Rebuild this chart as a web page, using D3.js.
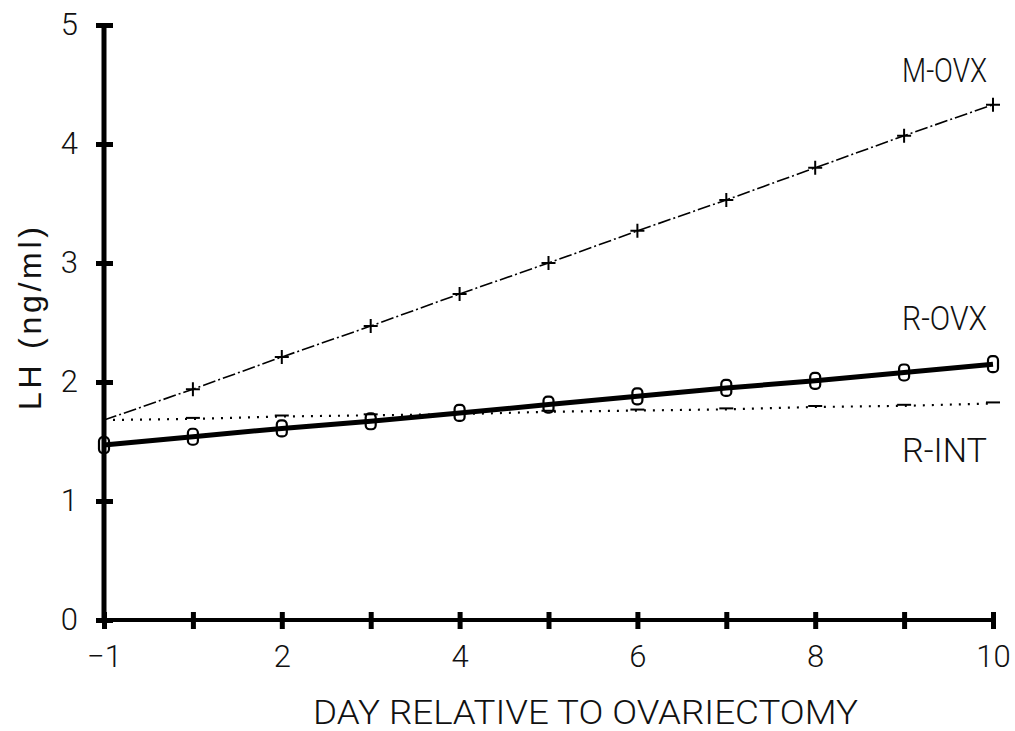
<!DOCTYPE html>
<html>
<head>
<meta charset="utf-8">
<script src="https://cdn.jsdelivr.net/npm/d3@7"></script>
<style>
  body { margin: 0; background: #fff; }
  svg text { font-family: Roboto, "DejaVu Sans", sans-serif; fill: #111; }
</style>
</head>
<body>
<div id="container"></div>
<script>
// days on the x axis (there is no day 0)
var days = [-1, 1, 2, 3, 4, 5, 6, 7, 8, 9, 10];
var xTickLabels = [-1, 2, 4, 6, 8, 10];
var yTicks = [0, 1, 2, 3, 4, 5];

// LH values (ng/ml)
var mOvx = [1.68, 1.94, 2.21, 2.47, 2.74, 3.00, 3.27, 3.53, 3.80, 4.07, 4.33];
var rOvx = [1.47, 1.54, 1.61, 1.67, 1.74, 1.81, 1.88, 1.95, 2.01, 2.08, 2.15];
var rInt = [1.68, 1.69, 1.71, 1.72, 1.73, 1.75, 1.76, 1.77, 1.79, 1.80, 1.82];

var seriesNames = ["M-OVX", "R-OVX", "R-INT"];

var width = 1015, height = 731;

var svg = d3.select("#container").append("svg")
    .attr("width", width)
    .attr("height", height);

// x is evenly spaced by position, not by day value
var x = d3.scalePoint()
    .domain(days)
    .range([104, 993]);

var y = d3.scaleLinear()
    .domain([0, 5])
    .range([620, 25]);

// y axis
var yAxis = svg.append("g")
    .attr("transform", "translate(104,0)")
    .call(d3.axisLeft(y).tickValues(yTicks).tickFormat(d3.format("d"))
        .tickSize(0).tickPadding(26));
yAxis.select(".domain").remove();
yAxis.selectAll(".tick text")
    .style("font-size", "31px")
    .style("font-weight", 300)
    .attr("fill", "#111");
yAxis.selectAll(".tick").append("line")
    .attr("x1", -8).attr("x2", 9)
    .attr("stroke", "#000").attr("stroke-width", 5);
yAxis.append("line")
    .attr("y1", y(5) - 2).attr("y2", y(0) + 2)
    .attr("stroke", "#000").attr("stroke-width", 5);

// x axis
var xAxis = svg.append("g")
    .attr("transform", "translate(0," + y(0) + ")")
    .call(d3.axisBottom(x).tickSize(0).tickPadding(25)
        .tickFormat(function(d) { return xTickLabels.indexOf(d) >= 0 ? (d < 0 ? "\u2212" + (-d) : d) : ""; }));
xAxis.select(".domain").remove();
xAxis.selectAll(".tick text")
    .style("font-size", "31px")
    .style("font-weight", 300)
    .attr("fill", "#111");
xAxis.selectAll(".tick").append("line")
    .attr("y1", -8).attr("y2", 9)
    .attr("stroke", "#000").attr("stroke-width", 5);
xAxis.append("line")
    .attr("x1", x(-1) - 2).attr("x2", x(10) + 2)
    .attr("stroke", "#000").attr("stroke-width", 4);

var line = d3.line()
    .x(function(d, i) { return x(days[i]); })
    .y(function(d) { return y(d); });

// R-INT: dotted with short dashes as markers
svg.append("path")
    .datum(rInt)
    .attr("d", line)
    .attr("fill", "none")
    .attr("stroke", "#000")
    .attr("stroke-width", 2.2)
    .attr("stroke-dasharray", "2,7");
svg.selectAll(".rint-mark")
    .data(rInt.slice(1))
    .enter().append("line")
    .attr("class", "rint-mark")
    .attr("x1", function(d, i) { return x(days[i + 1]) - 7; })
    .attr("x2", function(d, i) { return x(days[i + 1]) + 7; })
    .attr("y1", function(d) { return y(d) - 1; })
    .attr("y2", function(d) { return y(d) - 1; })
    .attr("stroke", "#000").attr("stroke-width", 2);

// M-OVX: dash-dot with plus markers
svg.append("path")
    .datum(mOvx)
    .attr("d", line)
    .attr("fill", "none")
    .attr("stroke", "#000")
    .attr("stroke-width", 1.6)
    .attr("stroke-dasharray", "13,3,2,3");
svg.selectAll(".movx-mark")
    .data(mOvx.slice(1))
    .enter().append("path")
    .attr("class", "movx-mark")
    .attr("d", function(d, i) {
        var cx = x(days[i + 1]), cy = y(d);
        return "M" + (cx - 7) + "," + cy + "H" + (cx + 7) + "M" + cx + "," + (cy - 7) + "V" + (cy + 7);
    })
    .attr("stroke", "#000").attr("stroke-width", 2);

// R-OVX: thick solid with "0" markers
svg.append("path")
    .datum(rOvx)
    .attr("d", line)
    .attr("fill", "none")
    .attr("stroke", "#000")
    .attr("stroke-width", 5);
svg.selectAll(".rovx-mark")
    .data(rOvx)
    .enter().append("rect")
    .attr("class", "rovx-mark")
    .attr("x", function(d, i) { return x(days[i]) - 5; })
    .attr("y", function(d) { return y(d) - 8; })
    .attr("width", 10).attr("height", 16)
    .attr("rx", 4).attr("ry", 4)
    .attr("fill", "none")
    .attr("stroke", "#000").attr("stroke-width", 2.2);

// series labels
var labelY = [82, 330, 462];
svg.selectAll(".series-label")
    .data(seriesNames)
    .enter().append("text")
    .attr("class", "series-label")
    .attr("x", 987)
    .attr("y", function(d, i) { return labelY[i]; })
    .attr("text-anchor", "end")
    .attr("textLength", 85)
    .attr("lengthAdjust", "spacingAndGlyphs")
    .style("font-size", "33px")
    .style("font-weight", 300)
    .text(function(d) { return d; });

// axis titles
svg.append("text")
    .attr("x", 313)
    .attr("y", 724)
    .attr("textLength", 545)
    .attr("lengthAdjust", "spacingAndGlyphs")
    .style("font-size", "34px")
    .style("font-weight", 300)
    .text("DAY RELATIVE TO OVARIECTOMY");

svg.append("text")
    .attr("transform", "translate(41,410) rotate(-90)")
    .attr("textLength", 183)
    .attr("lengthAdjust", "spacing")
    .style("font-family", "'Liberation Sans', Arial, sans-serif")
    .style("font-size", "32px")
    .text("LH (ng/ml)");
</script>
</body>
</html>
